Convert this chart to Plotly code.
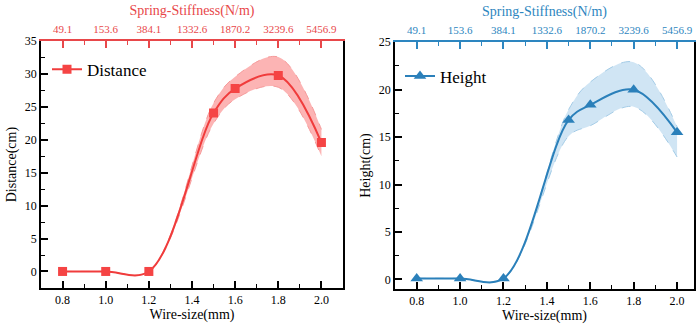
import plotly.graph_objects as go

# ---------------- data ----------------
wire = [0.8, 1.0, 1.2, 1.5, 1.6, 1.8, 2.0]
axis_ticks = [0.8, 1.0, 1.2, 1.4, 1.6, 1.8, 2.0]
axis_tick_labels = ["0.8", "1.0", "1.2", "1.4", "1.6", "1.8", "2.0"]
stiff_labels = ["49.1", "153.6", "384.1", "1332.6", "1870.2", "3239.6", "5456.9"]

distance = [0, 0, 0, 24.1, 27.8, 29.8, 19.6]
dist_upper = [0, 0, 0, 25.6, 29.6, 32.6, 21.6]
dist_lower = [0, 0, 0, 22.5, 26.2, 28.0, 17.5]

height = [0.1, 0.1, 0.1, 16.8, 18.4, 20.0, 15.5]
height_upper = [0.1, 0.1, 0.1, 17.9, 20.8, 22.9, 16.1]
height_lower = [0.1, 0.1, 0.1, 15.1, 16.2, 18.2, 12.9]

# ---------------- styles ----------------
FONT = "Liberation Serif"
RED = "#f03c3c"
RED_TOP = "#e8474a"
RED_BAND = "rgba(250,130,130,0.6)"
RED_EDGE = "#f59a9a"
BLUE = "#2b80ba"
BLUE_TOP = "#2d86c0"
BLUE_BAND = "rgba(170,208,235,0.55)"
BLUE_EDGE = "#a3cbe6"

fig = go.Figure()

# left panel band
fig.add_trace(go.Scatter(x=wire, y=dist_lower, mode="lines", line=dict(color=RED_EDGE, width=1, dash="dash", shape="spline"),
                         showlegend=False, xaxis="x", yaxis="y", hoverinfo="skip"))
fig.add_trace(go.Scatter(x=wire, y=dist_upper, mode="lines", line=dict(color=RED_EDGE, width=1, dash="dash", shape="spline"),
                         fill="tonexty", fillcolor=RED_BAND, showlegend=False, xaxis="x", yaxis="y", hoverinfo="skip"))
fig.add_trace(go.Scatter(x=wire, y=distance, mode="lines+markers", name="Distance",
                         line=dict(color=RED, width=2, shape="spline"),
                         marker=dict(symbol="square", size=9, color="#f54444"),
                         xaxis="x", yaxis="y", legend="legend"))

# right panel band
fig.add_trace(go.Scatter(x=wire, y=height_lower, mode="lines", line=dict(color=BLUE_EDGE, width=1, dash="dash", shape="spline"),
                         showlegend=False, xaxis="x2", yaxis="y2", hoverinfo="skip"))
fig.add_trace(go.Scatter(x=wire, y=height_upper, mode="lines", line=dict(color=BLUE_EDGE, width=1, dash="dash", shape="spline"),
                         fill="tonexty", fillcolor=BLUE_BAND, showlegend=False, xaxis="x2", yaxis="y2", hoverinfo="skip"))
fig.add_trace(go.Scatter(x=wire, y=height, mode="lines+markers", name="Height",
                         line=dict(color=BLUE, width=2, shape="spline"),
                         marker=dict(symbol="triangle-up", size=11, color=BLUE),
                         xaxis="x2", yaxis="y2", legend="legend2"))

# invisible traces to enable top axes
fig.add_trace(go.Scatter(x=[None], y=[None], xaxis="x3", yaxis="y", showlegend=False))
fig.add_trace(go.Scatter(x=[None], y=[None], xaxis="x4", yaxis="y2", showlegend=False))

tickfont = dict(family=FONT, size=12, color="black")
titlefont = dict(family=FONT, size=14, color="black")

def xbottom(domain, rng, anchor):
    return dict(domain=domain, range=rng, anchor=anchor, showline=True, linecolor="black", linewidth=1.5,
                ticks="inside", ticklen=7, tickwidth=1.5, tickcolor="black",
                tickvals=axis_ticks, ticktext=axis_tick_labels,
                minor=dict(ticks="inside", ticklen=4, tickwidth=1.2, tickcolor="black", dtick=0.1, tick0=0.7),
                showgrid=False, zeroline=False, tickfont=tickfont, tickangle=0,
                title=dict(text="Wire-size(mm)", font=titlefont, standoff=3))

def xtop(rng, over, anchor, color):
    return dict(range=rng, overlaying=over, anchor=anchor, side="top", showline=True, linecolor=color, linewidth=1.5,
                ticks="inside", ticklen=7, tickwidth=1.5, tickcolor=color,
                tickvals=axis_ticks, ticktext=stiff_labels, tickangle=0, ticklabelstandoff=2,
                minor=dict(ticks="inside", ticklen=4, tickwidth=1.2, tickcolor=color, dtick=0.1, tick0=0.7),
                showgrid=False, zeroline=False, tickfont=dict(family=FONT, size=11, color=color),
                title=dict(text="Spring-Stiffness(N/m)", font=dict(family=FONT, size=14, color=color), standoff=4))

def yleft(domain, rng, anchor, title):
    return dict(domain=domain, range=rng, anchor=anchor, showline=True, mirror=True, linecolor="black", linewidth=1.5,
                ticks="inside", ticklen=7, tickwidth=1.5, tickcolor="black", dtick=5, tick0=0,
                minor=dict(ticks="inside", ticklen=4, tickwidth=1.2, tickcolor="black", dtick=2.5, tick0=0),
                showgrid=False, zeroline=False, tickfont=tickfont,
                title=dict(text=title, font=titlefont, standoff=5))

fig.update_layout(
    width=700, height=329,
    margin=dict(l=0, r=0, t=0, b=0),
    paper_bgcolor="white", plot_bgcolor="white",
    xaxis=xbottom([41/700, 343/700], [0.7, 2.1], "y"),
    yaxis=yleft([1-287/329, 1-35/329], [-2.5, 35], "x", "Distance(cm)"),
    xaxis2=xbottom([395/700, 694/700], [0.7, 2.078], "y2"),
    yaxis2=yleft([1-288/329, 1-36/329], [-1, 25], "x2", "Height(cm)"),
    xaxis3=xtop([0.7, 2.1], "x", "y", RED_TOP),
    xaxis4=xtop([0.7, 2.078], "x2", "y2", BLUE_TOP),
    legend=dict(x=47/700, y=1-64/329, xanchor="left", yanchor="middle", bgcolor="rgba(0,0,0,0)",
                font=dict(family=FONT, size=17, color="black"), itemwidth=30),
    legend2=dict(x=400/700, y=1-71/329, xanchor="left", yanchor="middle", bgcolor="rgba(0,0,0,0)",
                 font=dict(family=FONT, size=17, color="black"), itemwidth=30),
    showlegend=True,
)

fig.write_html("out.html")
